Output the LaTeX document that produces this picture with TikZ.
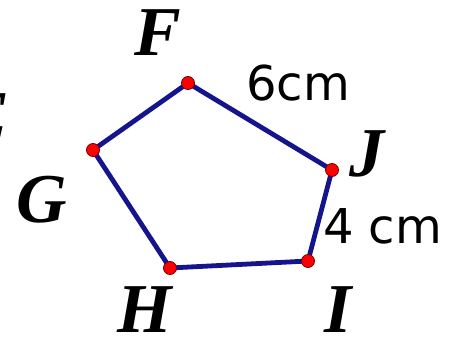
\documentclass[tikz,border=0pt]{standalone}
\usepackage{fontspec}
\setmainfont{Liberation Serif}
\newfontfamily\cmfont{DejaVu Sans}
\begin{document}
\begin{tikzpicture}[x=1pt,y=-1pt,
  side/.style={draw={rgb,255:red,20;green,20;blue,140},line width=4.8pt,line join=round},
  vdot/.style={circle,fill=red,draw={rgb,255:red,120;green,0;blue,0},line width=0.8pt,minimum size=13pt,inner sep=0pt},
  vlabel/.style={inner sep=0pt,anchor=base,font=\fontsize{70}{70}\selectfont\bfseries\itshape},
  mlabel/.style={inner sep=0pt,anchor=base west,font=\fontsize{48}{48}\selectfont\cmfont}]
\useasboundingbox (0,0) rectangle (460,340);
\clip (0,0) rectangle (460,340);
\coordinate (F) at (188,83);
\coordinate (J) at (332,170);
\coordinate (I) at (308,261);
\coordinate (H) at (170,268);
\coordinate (G) at (93,150);
\draw[side] (F) -- (J) -- (I) -- (H) -- (G) -- cycle;
\foreach \p in {F,J,I,H,G} \node[vdot] (d\p) at (\p) {};
\node[vlabel] (lF) at (158,55) {F};
\node[vlabel] (lJ) at (367,176) {J};
\node[vlabel] (lI) at (338,332) {I};
\node[vlabel] (lH) at (145,332) {H};
\node[vlabel] (lG) at (42,222) {G};
\node[vlabel] (lE) at (-14,139) {E};
\node[mlabel] (m6) at (246,100) {6cm};
\node[mlabel] (m4) at (323,243) {4 cm};
\end{tikzpicture}
\end{document}
